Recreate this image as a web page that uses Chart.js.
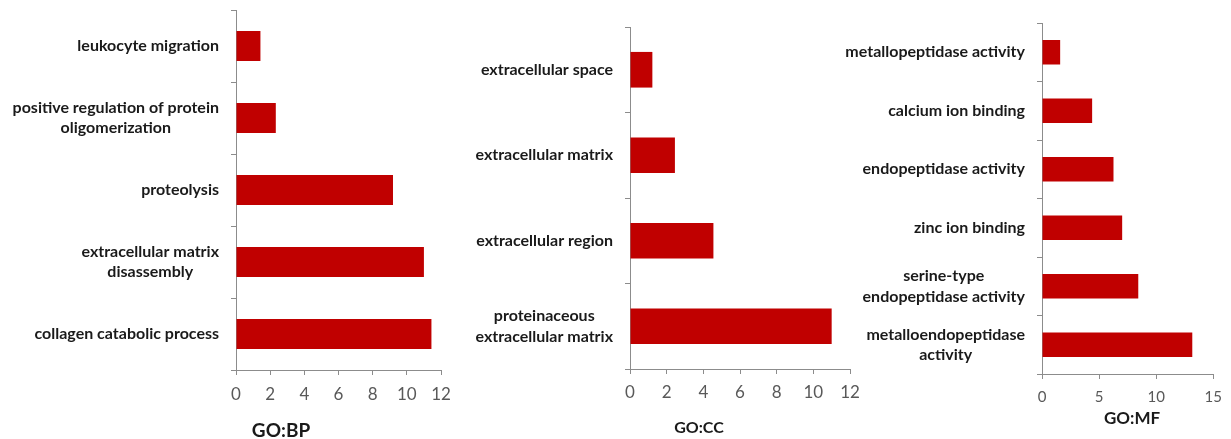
<!DOCTYPE html>
<html>
<head>
<meta charset="utf-8">
<script src="https://cdn.jsdelivr.net/npm/chart.js@4.4.0/dist/chart.umd.min.js"></script>
<style>
  html, body { margin: 0; padding: 0; background: #fff; }
  #wrap { position: relative; width: 1231px; height: 439px; overflow: hidden; }
  #wrap canvas { position: absolute; top: 0; }
  .cap { position: absolute; width: 120px; text-align: center; font-family: Lato, sans-serif;
         font-weight: 700; color: #1a1a1a; line-height: 1; white-space: nowrap; }
</style>
</head>
<body>
<div id="wrap">
  <canvas id="bp" width="465" height="439" style="left:0px"></canvas>
  <canvas id="cc" width="405" height="439" style="left:465px"></canvas>
  <canvas id="mf" width="391" height="439" style="left:840px"></canvas>
  <div class="cap" style="left:221px; top:420px; font-size:19px;">GO:BP</div>
  <div class="cap" style="left:639px; top:419px; font-size:16px;">GO:CC</div>
  <div class="cap" style="left:1072px; top:409px; font-size:17px;">GO:MF</div>
</div>
<script>
// GO:BP - biological process terms (top to bottom) and their values
const bpTerms = [
  'leukocyte migration',
  ['positive regulation of protein', 'oligomerization'],
  'proteolysis',
  ['extracellular matrix', 'disassembly'],
  'collagen catabolic process'
];
const bpValues = [1.43, 2.33, 9.19, 11.0, 11.44];

// GO:CC - cellular component terms
const ccTerms = [
  'extracellular space',
  'extracellular matrix',
  'extracellular region',
  ['proteinaceous', 'extracellular matrix']
];
const ccValues = [1.22, 2.45, 4.55, 11.0];

// GO:MF - molecular function terms
const mfTerms = [
  'metallopeptidase activity',
  'calcium ion binding',
  'endopeptidase activity',
  'zinc ion binding',
  ['serine-type', 'endopeptidase activity'],
  ['metalloendopeptidase', 'activity']
];
const mfValues = [1.59, 4.39, 6.26, 7.02, 8.43, 13.16];

// x-axis ranges: [max, step]
const bpAxis = [12, 2];
const ccAxis = [12, 2];
const mfAxis = [15, 5];

const BAR = '#C00000';
const AXIS = '#8c8c8c';
const FONT = 'Lato, sans-serif';

// Category labels: right-aligned blocks whose lines are centred on each other
const termLabels = {
  id: 'termLabels',
  afterDraw(chart) {
    const y = chart.scales.y;
    const ctx = chart.ctx;
    const lh = 20.6;
    const right = chart.chartArea.left - 17;
    ctx.save();
    ctx.font = '700 16px ' + FONT;
    ctx.fillStyle = '#1a1a1a';
    ctx.textAlign = 'center';
    ctx.textBaseline = 'middle';
    chart.data.labels.forEach((lab, i) => {
      const lines = [].concat(lab);
      const w = Math.max(...lines.map(s => ctx.measureText(s).width));
      const cx = right - w / 2;
      const cy = y.getPixelForValue(i);
      lines.forEach((s, j) => {
        ctx.fillText(s, cx, cy + (j - (lines.length - 1) / 2) * lh);
      });
    });
    ctx.restore();
  }
};

function panel(id, terms, values, axis, cfg) {
  return new Chart(document.getElementById(id), {
    type: 'bar',
    data: {
      labels: terms,
      datasets: [{
        data: values,
        backgroundColor: BAR,
        borderWidth: 0,
        categoryPercentage: 1,
        barPercentage: 0.417
      }]
    },
    options: {
      indexAxis: 'y',
      responsive: false,
      animation: false,
      layout: { padding: { top: cfg.top, right: cfg.right, bottom: 0, left: 0 } },
      plugins: { legend: { display: false }, tooltip: { enabled: false } },
      scales: {
        x: {
          min: 0,
          max: axis[0],
          ticks: { stepSize: axis[1], color: '#595959', font: { family: FONT, size: cfg.tickSize },
                   padding: cfg.tickPad, maxRotation: 0 },
          grid: { display: true, drawOnChartArea: false, drawTicks: true, tickLength: 5, color: AXIS },
          border: { display: true, color: AXIS },
          afterFit(s) { s.height = cfg.xHeight; }
        },
        y: {
          ticks: { display: false },
          grid: { display: true, offset: true, drawOnChartArea: false, drawTicks: true, tickLength: 5, color: AXIS },
          border: { display: true, color: AXIS },
          afterFit(s) { s.width = cfg.yWidth; }
        }
      }
    },
    plugins: [termLabels]
  });
}

panel('bp', bpTerms, bpValues, bpAxis, { top: 10, right: 24, yWidth: 236, xHeight: 69, tickSize: 17, tickPad: 9 });
panel('cc', ccTerms, ccValues, ccAxis, { top: 27, right: 20, yWidth: 165, xHeight: 70, tickSize: 17, tickPad: 8 });
panel('mf', mfTerms, mfValues, mfAxis, { top: 23, right: 12, yWidth: 202, xHeight: 65, tickSize: 15, tickPad: 9 });
</script>
</body>
</html>
